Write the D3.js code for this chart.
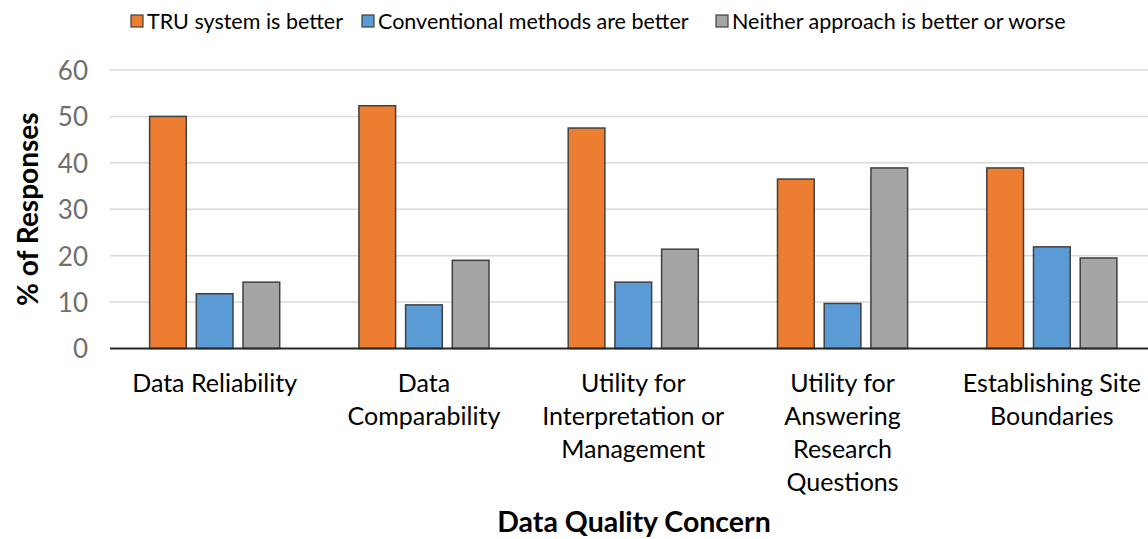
<!DOCTYPE html>
<html>
<head>
<meta charset="utf-8">
<script src="https://cdn.jsdelivr.net/npm/d3@7"></script>
<style>
  body { margin: 0; background: #fff; }
  svg { display: block; font-family: Lato, "Open Sans", sans-serif; }
</style>
</head>
<body>
<svg id="chart" width="1148" height="539"></svg>
<script>
// data
const categories = [
  "Data Reliability",
  "Data\nComparability",
  "Utility for\nInterpretation or\nManagement",
  "Utility for\nAnswering\nResearch\nQuestions",
  "Establishing Site\nBoundaries"
];
const seriesNames = ["TRU system is better", "Conventional methods are better", "Neither approach is better or worse"];
const tru = [50.0, 52.3, 47.5, 36.5, 38.9];
const conventional = [11.8, 9.4, 14.3, 9.7, 21.9];
const neither = [14.3, 19.0, 21.4, 38.9, 19.5];
const colors = ["#ED7D31", "#5B9BD5", "#A5A5A5"];
const yTicks = [0, 10, 20, 30, 40, 50, 60];

const series = [tru, conventional, neither];
const rows = categories.map((c, i) => ({ cat: c, vals: series.map(s => s[i]) }));

const svg = d3.select("#chart");

// plot area (right edge runs past the picture, as in the reference)
const plotL = 110, plotR = 1156.5, plotT = 70, plotB = 348.5;

const x0 = d3.scaleBand().domain(categories).range([plotL, plotR]).padding(0);
const x1 = d3.scaleBand().domain(d3.range(3)).range([0, x0.bandwidth()])
    .paddingInner(0.214).paddingOuter(0.848);
const y = d3.scaleLinear().domain([0, 60]).range([plotB, plotT]);

// gridlines
svg.append("g").selectAll("line")
    .data(yTicks.filter(t => t > 0))
    .enter().append("line")
    .attr("x1", plotL).attr("x2", plotR)
    .attr("y1", d => y(d)).attr("y2", d => y(d))
    .attr("stroke", "#d9d9d9")
    .attr("stroke-width", 1.5);

// y axis labels
const yAxis = svg.append("g")
    .attr("transform", `translate(${plotL},0)`)
    .call(d3.axisLeft(y).tickValues(yTicks).tickSize(0).tickPadding(22));
yAxis.select(".domain").remove();
yAxis.selectAll("text")
    .attr("fill", "#6f6f6f")
    .style("font-size", "26px")
    .style("font-family", "Lato, sans-serif")
    .attr("dy", "0.36em");

// bars
const groups = svg.append("g").selectAll("g")
    .data(rows)
    .enter().append("g")
    .attr("transform", d => `translate(${x0(d.cat)},0)`);

groups.selectAll("rect")
    .data(d => d.vals.map((v, k) => ({ k: k, v: v })))
    .enter().append("rect")
    .attr("x", d => x1(d.k))
    .attr("width", x1.bandwidth())
    .attr("y", d => y(d.v))
    .attr("height", d => y(0) - y(d.v))
    .attr("fill", d => colors[d.k])
    .attr("stroke", "#404040")
    .attr("stroke-width", 1.5);

// baseline
svg.append("line")
    .attr("x1", plotL).attr("x2", plotR)
    .attr("y1", y(0)).attr("y2", y(0))
    .attr("stroke", "#262626")
    .attr("stroke-width", 2.2);

// category labels (multi-line)
svg.append("g").selectAll("text")
    .data(categories)
    .enter().append("text")
    .attr("x", d => x0(d) + x0.bandwidth() / 2)
    .attr("y", 392)
    .attr("text-anchor", "middle")
    .attr("fill", "#000")
    .style("font-size", "25px")
    .each(function(d) {
        const lines = d.split("\n");
        const t = d3.select(this);
        lines.forEach((ln, i) => {
            t.append("tspan")
                .attr("x", x0(d) + x0.bandwidth() / 2)
                .attr("dy", i === 0 ? 0 : 33)
                .text(ln);
        });
    });

// axis titles
svg.append("text")
    .attr("transform", `translate(38,${(plotT + plotB) / 2}) rotate(-90)`)
    .attr("text-anchor", "middle")
    .style("font-size", "28px")
    .style("font-weight", "bold")
    .text("% of Responses");

svg.append("text")
    .attr("x", 634)
    .attr("y", 532)
    .attr("text-anchor", "middle")
    .style("font-size", "28.5px")
    .style("font-weight", "bold")
    .text("Data Quality Concern");

// legend
const legendX = [131, 362, 716];
const legend = svg.append("g").selectAll("g")
    .data(seriesNames)
    .enter().append("g")
    .attr("transform", (d, i) => `translate(${legendX[i]},15)`);
legend.append("rect")
    .attr("width", 12).attr("height", 12)
    .attr("fill", (d, i) => colors[i])
    .attr("stroke", "#404040")
    .attr("stroke-width", 1.2);
legend.append("text")
    .attr("x", 16)
    .attr("y", 13.5)
    .style("font-size", "21.5px")
    .attr("fill", "#000")
    .text(d => d);
</script>
</body>
</html>
